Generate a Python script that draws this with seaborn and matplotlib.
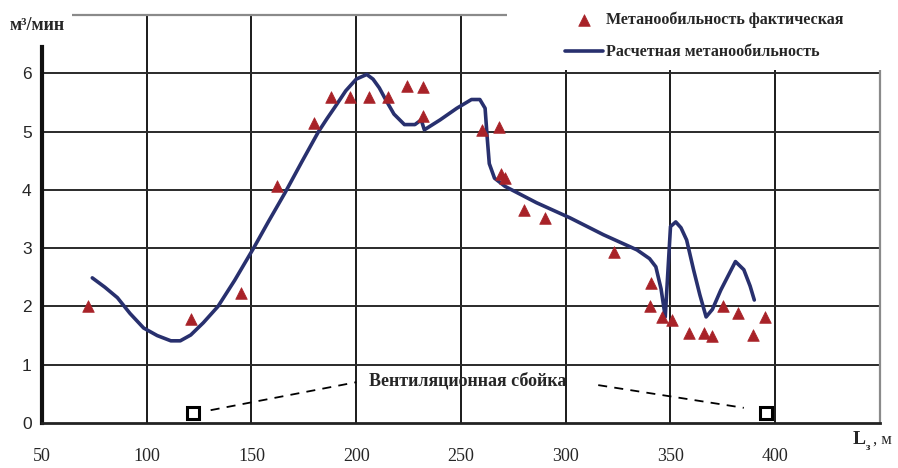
import numpy as np
import pandas as pd
import matplotlib
matplotlib.use("Agg")
import matplotlib.pyplot as plt
from matplotlib.patches import Rectangle
import seaborn as sns

# measured gas flow (triangles)
fact_x = [72, 121, 145, 162, 180, 188, 197, 206, 215, 224, 232, 232,
          260, 268, 269, 271, 280, 290, 323, 340.5, 340, 346, 350.5,
          359, 366, 370, 375, 382, 389.5, 395]
fact_y = [2.0, 1.78, 2.23, 4.06, 5.15, 5.6, 5.6, 5.6, 5.6, 5.79, 5.76, 5.26,
          5.03, 5.07, 4.27, 4.2, 3.66, 3.52, 2.94, 2.40, 2.0, 1.82, 1.77,
          1.55, 1.55, 1.5, 2.0, 1.89, 1.51, 1.82]

# calculated curve
calc_x = [74, 80, 86, 92, 98.5, 105, 111.5, 116, 121, 127, 134, 142, 151,
          158, 166, 174, 182, 186, 190, 195, 200, 205, 208, 211, 214, 218,
          223, 228, 231, 232.5, 240, 248, 255, 259, 261.5, 262.5, 263.5,
          266, 271, 286, 302, 318, 334, 340, 343, 345.5, 347.5, 350,
          352.5, 355, 357.7, 361, 364, 367, 370, 374, 381, 385, 388, 390]
calc_y = [2.49, 2.33, 2.15, 1.88, 1.63, 1.50, 1.41, 1.41, 1.51, 1.72, 2.0,
          2.45, 3.0, 3.45, 3.95, 4.48, 5.0, 5.22, 5.43, 5.7, 5.9, 5.98, 5.9,
          5.75, 5.55, 5.3, 5.12, 5.12, 5.2, 5.03, 5.2, 5.4, 5.55, 5.55, 5.4,
          4.9, 4.45, 4.2, 4.06, 3.78, 3.52, 3.23, 2.97, 2.82, 2.68, 2.3,
          1.82, 3.37, 3.45, 3.35, 3.14, 2.63, 2.2, 1.82, 1.95, 2.28, 2.77,
          2.63, 2.35, 2.11]

# ventilation crossing
vent_x = [122, 395.5]
vent_y = [0.17, 0.17]

x_ticks = [50, 100, 150, 200, 250, 300, 350, 400]
y_ticks = [0, 1, 2, 3, 4, 5, 6]

fact = pd.DataFrame({"x": fact_x, "y": fact_y})
calc = pd.DataFrame({"x": calc_x, "y": calc_y})

sns.set_style("white")
fig = plt.figure(figsize=(8.98, 4.68), dpi=100)
ax = fig.add_axes([42 / 898, 45 / 468, 838 / 898, 408 / 468])

red = "#a82228"
navy = "#28306e"

sns.lineplot(data=calc, x="x", y="y", sort=False, estimator=None, color=navy,
             linewidth=2.6, ax=ax, label="Расчетная метанообильность", zorder=3)
sns.scatterplot(data=fact, x="x", y="y", marker="^", s=70, color=red,
                edgecolor=red, linewidth=0.5, ax=ax,
                label="Метанообильность фактическая", zorder=4)
ax.plot(vent_x, vent_y, linestyle="none", marker="s", markersize=9,
        markerfacecolor="white", markeredgecolor="black", markeredgewidth=2.2,
        zorder=5)

ax.set_xlim(50, 450)
ax.set_ylim(0, 7)
ax.set_xticks(x_ticks)
ax.set_yticks(y_ticks)
ax.set_xlabel("")
ax.set_ylabel("")

# grid
for xv in x_ticks[1:]:
    ax.axvline(xv, color="#1a1a1a", linewidth=1.4, zorder=1)
for yv in y_ticks[1:]:
    ax.axhline(yv, color="#2a2a2a", linewidth=1.4, zorder=1)

for s in ["top", "right"]:
    ax.spines[s].set_color("#8a8a8a")
    ax.spines[s].set_linewidth(1.6)
ax.spines["left"].set_color("#111111")
ax.spines["left"].set_linewidth(3)
ax.spines["left"].set_bounds(0, 6.45)
ax.spines["bottom"].set_color("#222222")
ax.spines["bottom"].set_linewidth(2)

ax.tick_params(axis="both", direction="out", length=4, width=2, color="#111111")
ax.tick_params(axis="x", pad=14)
for lab in ax.get_xticklabels():
    lab.set_fontfamily("Liberation Serif")
    lab.set_fontsize(13)
for lab in ax.get_yticklabels():
    lab.set_fontfamily("Liberation Sans")
    lab.set_fontsize(12.5)

# annotation for ventilation crossing
ax.text(253, 0.72, "Вентиляционная сбойка", ha="center", va="center",
        fontsize=13, fontweight="bold", family="Liberation Serif", zorder=6)
ax.plot([130.5, 200], [0.22, 0.70], linestyle=(0, (5, 4)), color="black",
        linewidth=1.3, zorder=4)
ax.plot([315.5, 385], [0.65, 0.26], linestyle=(0, (5, 4)), color="black",
        linewidth=1.3, zorder=4)

# white block behind legend (covers top-right corner of the frame)
ax.add_patch(Rectangle((507 / 898, 1 - 70 / 468), 391 / 898, 70 / 468,
                       transform=fig.transFigure, facecolor="white",
                       edgecolor="none", clip_on=False, zorder=9))

# legend: triangles first
handles, labels = ax.get_legend_handles_labels()
leg = ax.legend(handles[::-1], labels[::-1], loc="upper left",
                bbox_to_anchor=(549 / 898, 1 + 4 / 468), bbox_transform=fig.transFigure,
                frameon=False, borderpad=0.5, handlelength=2.4, handletextpad=0.2,
                labelspacing=1.0, prop={"family": "Liberation Serif",
                                        "size": 11.5, "weight": "bold"})
leg.set_zorder(10)

# axis titles
fig.text(10 / 898, 1 - 25 / 468, "м³/мин", fontsize=13, fontweight="bold",
         family="Liberation Serif", va="center",
         bbox=dict(facecolor="white", edgecolor="none", pad=5))
fig.text(853 / 898, 1 - 440 / 468, "L", fontsize=14, fontweight="bold",
         family="Liberation Serif", va="center")
fig.text(866 / 898, 1 - 447 / 468, "з", fontsize=8, fontweight="bold",
         family="Liberation Serif", va="center")
fig.text(873 / 898, 1 - 440 / 468, ", м", fontsize=12,
         family="Liberation Serif", va="center")

fig.savefig("out.png", dpi=100)
